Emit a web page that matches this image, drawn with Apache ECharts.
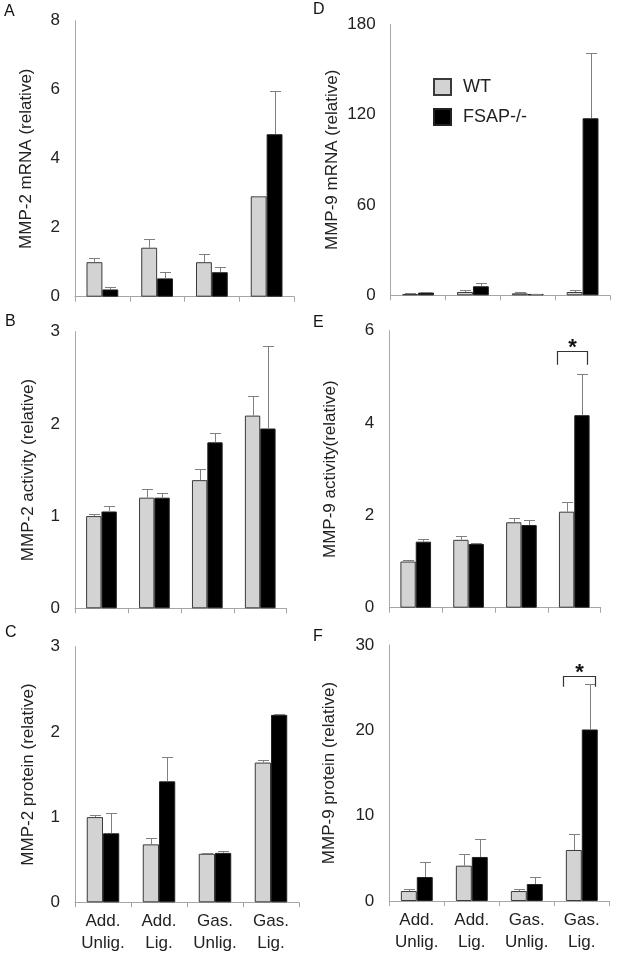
<!DOCTYPE html>
<html>
<head>
<meta charset="utf-8">
<script src="https://cdn.jsdelivr.net/npm/echarts@6/dist/echarts.min.js"></script>
<style>
  html, body { margin: 0; padding: 0; background: #fff; }
  #chart { width: 618px; height: 962px; }
</style>
</head>
<body>
<div id="chart"></div>
<script>
// ---------- DATA ----------
var categories = ['Add.\nUnlig.', 'Add.\nLig.', 'Gas.\nUnlig.', 'Gas.\nLig.'];
var seriesNames = ['WT', 'FSAP-/-'];

// A: MMP-2 mRNA
var mmp2mRNA_WT = [1.0, 1.42, 1.0, 2.91];
var mmp2mRNA_WT_sd = [0.13, 0.24, 0.24, 0.02];
var mmp2mRNA_KO = [0.21, 0.53, 0.71, 4.71];
var mmp2mRNA_KO_sd = [0.08, 0.19, 0.16, 1.26];

// B: MMP-2 activity
var mmp2Act_WT = [1.0, 1.2, 1.39, 2.09];
var mmp2Act_WT_sd = [0.02, 0.09, 0.12, 0.21];
var mmp2Act_KO = [1.05, 1.2, 1.8, 1.95];
var mmp2Act_KO_sd = [0.06, 0.05, 0.1, 0.9];

// C: MMP-2 protein
var mmp2Prot_WT = [1.0, 0.68, 0.57, 1.64];
var mmp2Prot_WT_sd = [0.03, 0.07, 0.005, 0.03];
var mmp2Prot_KO = [0.81, 1.42, 0.58, 2.20];
var mmp2Prot_KO_sd = [0.24, 0.29, 0.02, 0.01];

// D: MMP-9 mRNA
var mmp9mRNA_WT = [0.9, 2.2, 1.3, 2.2];
var mmp9mRNA_WT_sd = [0.9, 1.1, 0.7, 1.3];
var mmp9mRNA_KO = [1.8, 6.0, 0.9, 117.6];
var mmp9mRNA_KO_sd = [0.6, 2.0, 0.2, 43.2];

// E: MMP-9 activity
var mmp9Act_WT = [1.0, 1.47, 1.85, 2.08];
var mmp9Act_WT_sd = [0.03, 0.09, 0.1, 0.21];
var mmp9Act_KO = [1.43, 1.38, 1.79, 4.17];
var mmp9Act_KO_sd = [0.06, 0.03, 0.1, 0.9];

// F: MMP-9 protein
var mmp9Prot_WT = [1.17, 4.14, 1.17, 5.98];
var mmp9Prot_WT_sd = [0.2, 1.33, 0.28, 1.83];
var mmp9Prot_KO = [2.81, 5.16, 1.99, 20.1];
var mmp9Prot_KO_sd = [1.8, 2.11, 0.82, 5.3];

// y-axis titles, ranges, tick steps
var axisTitles = ['MMP-2 mRNA (relative)', 'MMP-2 activity (relative)', 'MMP-2 protein (relative)',
                  'MMP-9 mRNA (relative)', 'MMP-9 activity(relative)', 'MMP-9 protein (relative)'];
var yMax = [8, 3, 3, 180, 6, 30];
var yStep = [2, 1, 1, 60, 2, 10];
var panelLetters = ['A', 'B', 'C', 'D', 'E', 'F'];

// significance brackets: [category index, bracket top value, leg bottom value]
var sigE = [3, 5.57, 5.26];
var sigF = [3, 26.4, 25.1];

// ---------- LAYOUT / STYLE ----------
var FONT = 'Liberation Sans, Arial, sans-serif';
var GAP = 0.42;
var grids = [
  { left: 75, top: 20.7, width: 219, height: 276 },       // A
  { left: 75, top: 331.7, width: 211.7, height: 276.6 },  // B
  { left: 75, top: 646.7, width: 224, height: 255.6 },    // C
  { left: 390.7, top: 24.3, width: 219.3, height: 271 },  // D
  { left: 389.3, top: 330.7, width: 211.4, height: 277 }, // E
  { left: 389.3, top: 645, width: 220, height: 256 }      // F
];
var nameGaps = [40, 38, 38, 50, 50, 51];
var letterPos = [[4, 4], [5, 314], [5, 625], [313, 2], [313, 315], [313, 629]];

var panels = [
  [mmp2mRNA_WT, mmp2mRNA_WT_sd, mmp2mRNA_KO, mmp2mRNA_KO_sd],
  [mmp2Act_WT, mmp2Act_WT_sd, mmp2Act_KO, mmp2Act_KO_sd],
  [mmp2Prot_WT, mmp2Prot_WT_sd, mmp2Prot_KO, mmp2Prot_KO_sd],
  [mmp9mRNA_WT, mmp9mRNA_WT_sd, mmp9mRNA_KO, mmp9mRNA_KO_sd],
  [mmp9Act_WT, mmp9Act_WT_sd, mmp9Act_KO, mmp9Act_KO_sd],
  [mmp9Prot_WT, mmp9Prot_WT_sd, mmp9Prot_KO, mmp9Prot_KO_sd]
];

var ERR_COLOR = '#808080';
var CAP = 11;

function renderErr(params, api) {
  var cat = api.value(0), mean = api.value(1), sd = api.value(2), g = api.value(3);
  var base = api.coord([cat, mean]);
  var top = api.coord([cat, mean + sd]);
  var band = api.size([1, 0])[0];
  var bw = band * (1 - GAP) / 2;
  var x = Math.round(base[0] + (g === 0 ? -bw / 2 : bw / 2)) + 0.5;
  var yt = Math.round(top[1]) + 0.5;
  var yb = base[1];
  var st = { stroke: ERR_COLOR, lineWidth: 1 };
  return {
    type: 'group',
    children: [
      { type: 'line', shape: { x1: x, y1: yb, x2: x, y2: yt }, style: st },
      { type: 'line', shape: { x1: x - CAP / 2, y1: yt, x2: x + CAP / 2, y2: yt }, style: st }
    ]
  };
}

function renderSig(params, api) {
  var cat = api.value(0);
  var pTop = api.coord([cat, api.value(1)]);
  var pLeg = api.coord([cat, api.value(2)]);
  var band = api.size([1, 0])[0];
  var bw = band * (1 - GAP) / 2;
  var x1 = Math.round(pTop[0] - 1.15 * bw) + 0.5;
  var x2 = Math.round(pTop[0] + 0.85 * bw) + 0.5;
  var yt = Math.round(pTop[1]) + 0.5;
  var yl = pLeg[1];
  var st = { stroke: '#333', lineWidth: 1.2, fill: null };
  return {
    type: 'group',
    children: [
      { type: 'polyline', shape: { points: [[x1, yl], [x1, yt], [x2, yt], [x2, yl]] }, style: st },
      { type: 'text', style: { text: '*', x: (x1 + x2) / 2, y: yt - 4, align: 'center', verticalAlign: 'middle',
          font: 'bold 22px ' + FONT, fill: '#111' } }
    ]
  };
}

var option = {
  animation: false,
  backgroundColor: '#fff',
  textStyle: { fontFamily: FONT },
  grid: grids.map(function (g) { return Object.assign({ containLabel: false }, g); }),
  legend: {
    show: true,
    data: seriesNames,
    orient: 'vertical',
    left: 428, top: 73,
    icon: 'rect',
    itemWidth: 17, itemHeight: 16, itemGap: 12,
    textStyle: { fontFamily: FONT, fontSize: 18, color: '#222', padding: [0, 0, 0, 7] },
    selectedMode: false
  },
  xAxis: grids.map(function (g, i) {
    var showLabel = (i === 2 || i === 5);
    return {
      type: 'category', gridIndex: i, data: categories,
      axisLine: { show: true, lineStyle: { color: '#a6a6a6', width: 1 } },
      axisTick: { show: true, length: 5, lineStyle: { color: '#a6a6a6' } },
      axisLabel: { show: showLabel, fontFamily: FONT, fontSize: 17, color: '#222', lineHeight: 22, margin: 8, interval: 0 }
    };
  }),
  yAxis: grids.map(function (g, i) {
    return {
      type: 'value', gridIndex: i, min: 0, max: yMax[i], interval: yStep[i],
      name: axisTitles[i], nameLocation: 'middle', nameGap: nameGaps[i],
      nameTextStyle: { fontFamily: FONT, fontSize: 17, color: '#222' },
      axisLine: { show: true, lineStyle: { color: '#a6a6a6', width: 1 } },
      axisTick: { show: false },
      splitLine: { show: false },
      axisLabel: { fontFamily: FONT, fontSize: 17, color: '#222', margin: 15 }
    };
  }),
  graphic: panelLetters.map(function (L, i) {
    return { type: 'text', left: letterPos[i][0], top: letterPos[i][1],
      style: { text: L, font: '16px ' + FONT, fill: '#111' } };
  }),
  series: []
};

panels.forEach(function (p, i) {
  option.series.push({
    name: seriesNames[0], type: 'bar', xAxisIndex: i, yAxisIndex: i, data: p[0],
    barGap: '0%', barCategoryGap: (GAP * 100) + '%',
    itemStyle: { color: '#d3d3d3', borderColor: '#3a3a3a', borderWidth: 1 }
  });
  option.series.push({
    name: seriesNames[1], type: 'bar', xAxisIndex: i, yAxisIndex: i, data: p[2],
    barGap: '0%', barCategoryGap: (GAP * 100) + '%',
    itemStyle: { color: '#000', borderColor: '#222', borderWidth: 1 }
  });
  var errData = [];
  p[0].forEach(function (v, k) { errData.push([k, v, p[1][k], 0]); });
  p[2].forEach(function (v, k) { errData.push([k, v, p[3][k], 1]); });
  option.series.push({
    type: 'custom', xAxisIndex: i, yAxisIndex: i, renderItem: renderErr, data: errData, z: 5,
    encode: { x: 0, y: [1, 2] }
  });
});

[[4, sigE], [5, sigF]].forEach(function (s) {
  option.series.push({
    type: 'custom', xAxisIndex: s[0], yAxisIndex: s[0], renderItem: renderSig,
    data: [s[1]], z: 6, encode: { x: 0, y: [1, 2] }
  });
});

var chart = echarts.init(document.getElementById('chart'), null, { renderer: 'canvas' });
chart.setOption(option);
</script>
</body>
</html>
